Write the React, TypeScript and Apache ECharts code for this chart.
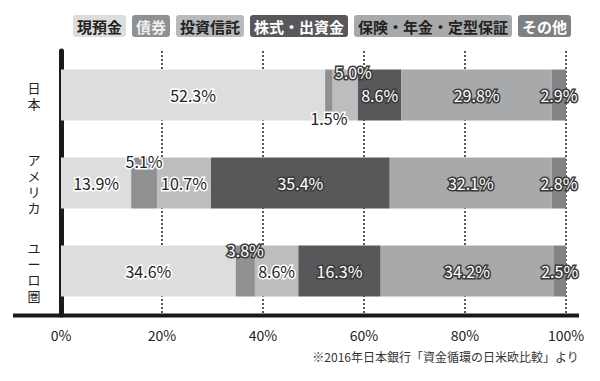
import React, { useEffect, useRef } from "react";
import * as echarts from "echarts";

const categories = ["日本", "アメリカ", "ユーロ圏"];
const seriesNames = ["現預金", "債券", "投資信託", "株式・出資金", "保険・年金・定型保証", "その他"];
const cash = [52.3, 13.9, 34.6];
const bonds = [1.5, 5.1, 3.8];
const trusts = [5.0, 10.7, 8.6];
const equity = [8.6, 35.4, 16.3];
const insurance = [29.8, 32.1, 34.2];
const other = [2.9, 2.8, 2.5];
const xTickLabels = ["0%", "20%", "40%", "60%", "80%", "100%"];
const footnote = "※2016年日本銀行「資金循環の日米欧比較」より";

const seriesValues = [cash, bonds, trusts, equity, insurance, other];

const barColors = ["#dcdddd", "#8f9092", "#bcbdbf", "#58585a", "#a8a9ab", "#838486"];
const legendBg = ["#dcdddd", "#8f9092", "#b9babc", "#58585a", "#a8a9ab", "#7f8082"];
const legendFg = ["#222222", "#eeeeee", "#222222", "#ffffff", "#222222", "#ffffff"];

// label tone: "d" = dark text w/ white halo, "l" = white text w/ dark outline
const labelTone = [
  ["d", "d", "d"],
  ["d", "d", "l"],
  ["l", "d", "d"],
  ["l", "l", "l"],
  ["l", "l", "l"],
  ["l", "l", "l"],
];
// label offsets for small segments
const labelOffset: Record<string, number[]> = {
  "1-0": [0, 23],
  "2-0": [8, -23],
  "1-1": [0, -22],
  "1-2": [0, -21],
};

const FONT = "'Noto Sans CJK JP', 'Noto Sans', sans-serif";

export default function App() {
  const ref = useRef<HTMLDivElement>(null);
  useEffect(() => {
    if (!ref.current) return;
    const chart = echarts.init(ref.current, undefined, { renderer: "svg" });
    const series = seriesNames.map((name, si) => ({
      name,
      type: "bar",
      stack: "total",
      barWidth: 51,
      itemStyle: { color: barColors[si] },
      data: seriesValues[si].map((v, ci) => {
        const tone = labelTone[si][ci];
        const off = labelOffset[`${si}-${ci}`] || [0, 0];
        return {
          value: v,
          label: {
            show: true,
            position: "inside",
            offset: off,
            formatter: `${v.toFixed(1)}%`,
            fontFamily: FONT,
            fontSize: 16,
            color: tone === "d" ? "#222222" : "#ffffff",
            textBorderColor: tone === "d" ? "#ffffff" : "#3a3a3a",
            textBorderWidth: 3,
          },
        };
      }),
    }));
    chart.setOption({
      animation: false,
      backgroundColor: "#ffffff",
      textStyle: { fontFamily: FONT },
      legend: {
        left: 63,
        top: 10,
        width: 580,
        icon: "none",
        itemWidth: 0,
        itemHeight: 10,
        itemGap: 1,
        selectedMode: false,
        textStyle: {
          fontSize: 15,
          fontWeight: "bold",
          fontFamily: FONT,
        },
        data: seriesNames.map((n, i) => ({
          name: n,
          textStyle: {
            color: legendFg[i],
            backgroundColor: legendBg[i],
            padding: [4, 4, 3, 4],
            borderRadius: 3,
            fontSize: 15,
            fontWeight: "bold",
            fontFamily: FONT,
          },
        })),
      },
      grid: { left: 61, right: 34, top: 51, bottom: 66 },
      xAxis: {
        type: "value",
        min: 0,
        max: 100,
        interval: 20,
        axisLine: { show: false },
        axisTick: { show: false },
        axisLabel: {
          margin: 13,
          fontSize: 14,
          color: "#222222",
          fontFamily: FONT,
          formatter: (v: number) => xTickLabels[Math.round(v / 20)],
        },
        splitLine: {
          show: true,
          lineStyle: { color: "#222222", width: 1.5, type: [2, 2] },
        },
      },
      yAxis: {
        type: "category",
        inverse: true,
        data: categories,
        offset: 2.5,
        axisLine: { show: true, lineStyle: { color: "#1a1a1a", width: 5 } },
        axisTick: { show: false },
        axisLabel: {
          margin: 18,
          fontSize: 13,
          lineHeight: 16,
          color: "#222222",
          fontFamily: FONT,
          formatter: (v: string) => v.split("").join("\n"),
        },
      },
      graphic: [
        {
          type: "line",
          shape: { x1: 13, y1: 315.5, x2: 579, y2: 315.5 },
          style: { stroke: "#1a1a1a", lineWidth: 4 },
          z: 10,
        },
        {
          type: "text",
          right: 21,
          top: 350,
          style: {
            text: footnote,
            fontSize: 12,
            fill: "#333333",
            fontFamily: FONT,
          },
        },
      ],
      series,
    });
    return () => chart.dispose();
  }, []);
  return (
    <div
      ref={ref}
      style={{ position: "fixed", left: 0, top: 0, width: 600, height: 381, background: "#fff" }}
    />
  );
}
